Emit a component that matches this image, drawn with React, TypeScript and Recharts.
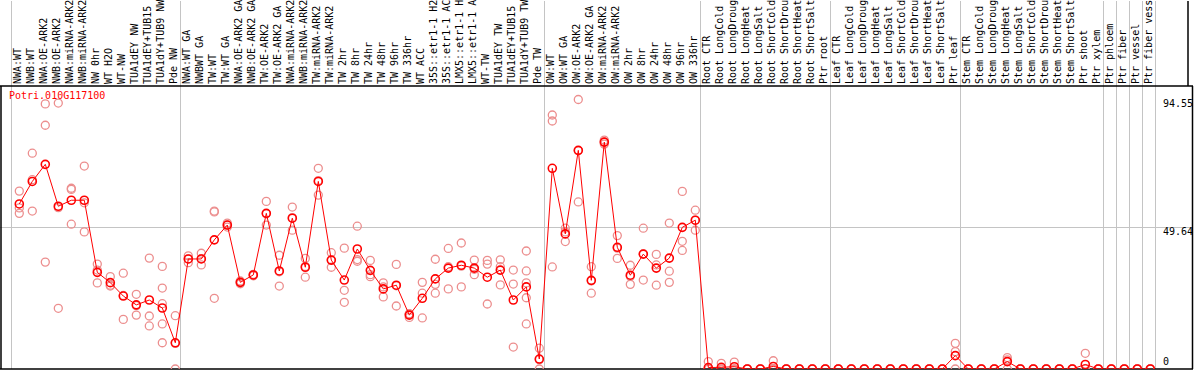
import { ScatterChart, Scatter, XAxis, YAxis, ReferenceLine } from 'recharts';

// sample names, in plot order
const labels = [
  'NWA:WT', 'NWB:WT', 'NWA:OE-ARK2', 'NWB:OE-ARK2', 'NWA:miRNA-ARK2', 'NWB:miRNA-ARK2', 'NW 0hr', 'WT H2O', 'WT-NW',
  'TUA1dEY NW', 'TUA1dEY+TUB15 NW', 'TUA1dY+TUB9 NW', 'Pde NW',
  'NWA:WT GA', 'NWBWT GA', 'TW:WT', 'TW:WT GA', 'NWA:OE-ARK2 GA', 'NWB:OE-ARK2 GA', 'TW:OE-ARK2', 'TW:OE-ARK2 GA',
  'NWA:miRNA-ARK2 GA', 'NWB:miRNA-ARK2 GA', 'TW:miRNA-ARK2', 'TW:miRNA-ARK2 GA', 'TW 2hr', 'TW 8hr', 'TW 24hr', 'TW 48hr',
  'TW 96hr', 'TW 336hr', 'WT ACC', '35S::etr1-1 H2O', '35S::etr1-1 ACC', 'LMX5::etr1-1 H2O', 'LMX5::etr1-1 ACC', 'WT-TW',
  'TUA1dEY TW', 'TUA1dEY+TUB15 TW', 'TUA1dY+TUB9 TW', 'Pde TW',
  'OW:WT', 'OW:WT GA', 'OW:OE-ARK2', 'OW:OE-ARK2 GA', 'OW:miRNA-ARK2', 'OW:miRNA-ARK2 GA', 'OW 2hr', 'OW 8hr', 'OW 24hr',
  'OW 48hr', 'OW 96hr', 'OW 336hr',
  'Root CTR', 'Root LongCold', 'Root LongDrought', 'Root LongHeat', 'Root LongSalt', 'Root ShortCold', 'Root ShortDrought',
  'Root ShortHeat', 'Root ShortSalt', 'Ptr root',
  'Leaf CTR', 'Leaf LongCold', 'Leaf LongDrought', 'Leaf LongHeat', 'Leaf LongSalt', 'Leaf ShortCold', 'Leaf ShortDrought',
  'Leaf ShortHeat', 'Leaf ShortSalt', 'Ptr leaf',
  'Stem CTR', 'Stem LongCold', 'Stem LongDrought', 'Stem LongHeat', 'Stem LongSalt', 'Stem ShortCold', 'Stem ShortDrought',
  'Stem ShortHeat', 'Stem ShortSalt', 'Ptr shoot',
  'Ptr xylem', 'Ptr phloem', 'Ptr fiber', 'Ptr vessel', 'Ptr fiber vessel',
];

// mean expression per sample
const means = [
  57.9, 65.8, 71.8, 57.1, 59.2, 59.2, 33.9, 30.3, 25.6, 22.5, 24.2, 21.4, 9.2,
  38.6, 38.6, 45.3, 50.5, 30.4, 33.0, 54.6, 34.4, 52.9, 35.7, 65.8, 38.2, 31.2, 42.1, 34.6, 28.1,
  29.4, 18.9, 24.8, 31.6, 35.4, 36.4, 35.4, 32.2, 34.7, 24.2, 28.8, 3.5,
  70.4, 47.4, 76.7, 31.1, 79.6, 42.7, 32.9, 40.3, 35.4, 38.9, 49.7, 52.2,
  0.5, 0.6, 0.8, 0, 0, 0.9, 0, 0, 0, 0,
  0, 0, 0, 0, 0, 0, 0, 0, 0, 4.7,
  0, 0, 0, 2.6, 0, 0, 0, 0, 0, 1.6,
  0, 0, 0, 0, 0,
];

// individual replicates per sample
const replicates = [
  [62.4, 56.5, 54.6], [75.7, 66.4, 55.4], [93.0, 85.5, 37.5], [93.3, 56.6, 21.3], [63.4, 63.0, 50.8],
  [71.2, 58.3, 48.1], [36.8, 34.7, 30.2], [32.4, 29.4, 29.1], [33.6, 25.8, 17.4], [26.2, 22.2, 18.9],
  [38.9, 18.6, 15.1], [36.0, 28.4, 22.9, 15.8, 9.2], [18.7, 9.0, 0],
  [39.7, 38.6, 37.3], [40.6, 38.7, 36.5], [55.4, 55.1, 24.8], [51.2, 50.5, 49.8], [30.9, 30.4, 29.9],
  [33.2, 33.0, 32.7], [58.8, 54.5, 50.5], [39.9, 34.1, 29.1], [56.8, 53.1, 48.7], [38.8, 36.0, 32.2],
  [70.4, 66.1, 61.0], [40.8, 38.2, 35.7], [42.4, 27.6, 23.4], [50.1, 38.4, 37.8], [38.1, 33.1, 32.4],
  [30.2, 28.8, 25.3], [36.7, 29.2, 22.1], [19.4, 19.3, 18.1], [30.4, 26.6, 17.9], [38.5, 29.7, 26.6],
  [42.3, 35.9, 28.1], [44.2, 36.1, 28.8], [38.2, 35.0, 33.1], [38.1, 36.8, 22.8], [38.3, 35.9, 29.5],
  [34.7, 29.8, 7.7], [41.4, 34.4, 30.2, 25.0, 15.8], [7.3, 3.3, 0],
  [89.1, 87.0, 35.8], [49.4, 48.1, 44.7], [94.55, 76.6, 58.6], [35.9, 30.9, 26.6], [80.3, 79.6, 78.9],
  [46.8, 42.4, 38.8], [36.4, 32.5, 29.7], [49.4, 40.4, 31.2], [40.2, 36.5, 29.4], [51.2, 34.3, 30.4],
  [62.3, 44.8, 41.6], [55.7, 52.2, 48.7],
  [2.6, 0, 0], [2.0, 0, 0], [2.4, 0, 0], [0, 0, 0], [0, 0, 0], [2.9, 0, 0], [0, 0, 0], [0, 0, 0], [0, 0, 0], [0, 0, 0],
  [0, 0, 0], [0, 0, 0], [0, 0, 0], [0, 0, 0], [0, 0, 0], [0, 0, 0], [0, 0, 0], [0, 0, 0], [0, 0, 0], [9.0, 6.1, 0],
  [0, 0, 0], [0, 0, 0], [0, 0, 0], [4.0, 3.2, 0], [0, 0, 0], [0, 0, 0], [0, 0, 0], [0, 0, 0], [0, 0, 0], [5.5, 0, 0],
  [0, 0, 0], [0, 0, 0], [0, 0, 0], [0, 0, 0], [0, 0, 0],
];

// a grey divider is drawn after each of these sample indices
const dividersAfter = [-1, 12, 40, 52, 62, 72, 83, 84, 85, 86, 87];
const yTicks = [0, 49.64, 94.55];
const geneId = 'Potri.010G117100';

const W = 1194;
const H = 370;
const PLOT_TOP_PX = 1; // x axis takes 1px
const PLOT_BOTTOM_PX = 369;
const FRAME_TOP_PX = 86;
const PLOT_W = W - 1; // y axis takes 1px
const STEP = 13;
const FIRST_X = 19.3;
const CHAR_W = 6;
const FONT = '"DejaVu Sans Mono", monospace';

const maxVal = Math.max(...replicates.flat());
const plotTop = maxVal * 1.05;
const plotH = PLOT_BOTTOM_PX - PLOT_TOP_PX;
const yMax = (plotTop * plotH) / (PLOT_BOTTOM_PX - FRAME_TOP_PX);
const xMin = -FIRST_X / STEP;
const xMax = xMin + PLOT_W / STEP;
const pxToIdx = (px: number) => xMin + px / STEP;

const meanPts = means.map((v, idx) => ({ idx, v }));
const repPts = replicates.flatMap((vals, idx) => vals.map((v) => ({ idx, v })));
const tickIdx = labels.map((_, i) => i);

// labels longer than the header band are cut, as in the original figure
const SampleTick = (props: any) => {
  const { x, payload } = props;
  const tx = x + 2;
  const ty = FRAME_TOP_PX - 2;
  const maxChars = Math.floor(ty / CHAR_W);
  return (
    <text x={tx} y={ty} transform={`rotate(-90 ${tx} ${ty})`} fontSize={10} fontFamily={FONT} fill="#000">
      {labels[payload.value].slice(0, maxChars)}
    </text>
  );
};

const ValueTick = (props: any) => {
  const { y, payload } = props;
  return (
    <text x={W - 31} y={Math.min(y, PLOT_BOTTOM_PX - 11)} fontSize={10} fontFamily={FONT} fill="#000" dominantBaseline="hanging">
      {payload.value}
    </text>
  );
};

const RepDot = (p: any) => <circle cx={p.cx} cy={p.cy} r={4} fill="none" stroke="#ec8e8e" strokeWidth={1.3} />;
const MeanDot = (p: any) => <circle cx={p.cx} cy={p.cy} r={4} fill="none" stroke="#ff0000" strokeWidth={1.6} />;

export default function App() {
  return (
    <div style={{ position: 'absolute', left: 0, top: 0, width: W, height: H, overflow: 'hidden', background: '#fff' }}>
      <ScatterChart width={W} height={H} margin={{ top: 0, right: 0, bottom: H - PLOT_BOTTOM_PX, left: 0 }}>
        <XAxis
          dataKey="idx"
          type="number"
          orientation="top"
          height={PLOT_TOP_PX}
          domain={[xMin, xMax]}
          allowDataOverflow
          ticks={tickIdx}
          interval={0}
          axisLine={false}
          tickLine={false}
          tick={<SampleTick />}
        />
        <YAxis
          dataKey="v"
          type="number"
          orientation="right"
          width={1}
          domain={[0, yMax]}
          allowDataOverflow
          ticks={yTicks}
          interval={0}
          axisLine={false}
          tickLine={false}
          tick={<ValueTick />}
        />
        {dividersAfter.map((i) => (
          <ReferenceLine key={i} x={i + 0.4} stroke="#c4c4c4" strokeWidth={1} />
        ))}
        <ReferenceLine y={plotTop / 2} stroke="#c4c4c4" strokeWidth={1} />
        <ReferenceLine y={plotTop} stroke="#000" strokeWidth={1.5} />
        <ReferenceLine y={0} stroke="#000" strokeWidth={1.5} />
        <ReferenceLine segment={[{ x: pxToIdx(1), y: 0 }, { x: pxToIdx(1), y: plotTop }]} stroke="#000" strokeWidth={1.5} />
        <ReferenceLine segment={[{ x: pxToIdx(PLOT_W - 0.5), y: 0 }, { x: pxToIdx(PLOT_W - 0.5), y: plotTop }]} stroke="#000" strokeWidth={1.5} />
        <ReferenceLine segment={[{ x: pxToIdx(W - 6), y: plotTop }, { x: pxToIdx(W - 6), y: yMax }]} stroke="#000" strokeWidth={1.5} />
        <Scatter data={repPts} shape={RepDot} isAnimationActive={false} />
        <Scatter
          data={meanPts}
          shape={MeanDot}
          line={{ stroke: '#ff0000', strokeWidth: 1 }}
          lineJointType="linear"
          isAnimationActive={false}
        />
      </ScatterChart>
      <div style={{ position: 'absolute', left: 9, top: 90, color: '#ff0000', fontFamily: FONT, fontSize: 10 }}>{geneId}</div>
    </div>
  );
}
